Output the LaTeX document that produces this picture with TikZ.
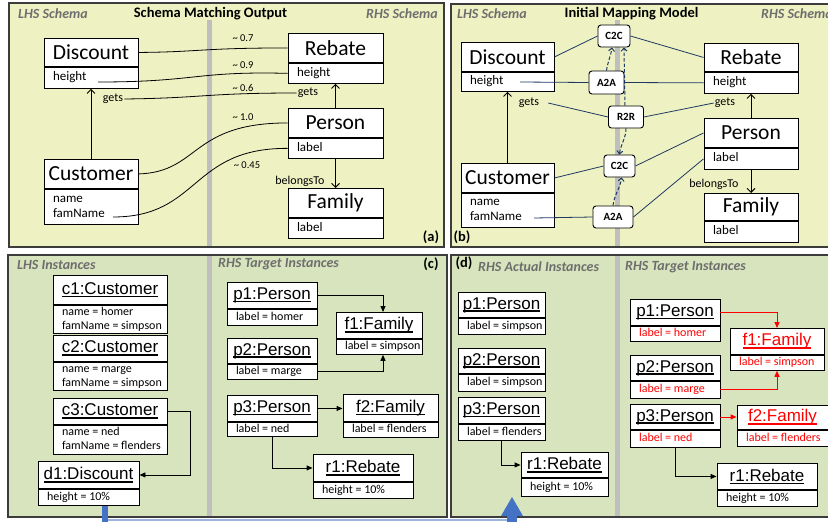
\documentclass[tikz,border=0pt]{standalone}
\usepackage{fontspec}
\setmainfont{Carlito}
\newfontfamily\arialf{Liberation Sans}
\usetikzlibrary{arrows.meta,calc}

\definecolor{panelA}{RGB}{238,242,194}
\definecolor{panelC}{RGB}{216,228,189}
\definecolor{sepgray}{RGB}{191,191,191}
\definecolor{framec}{RGB}{60,60,60}
\definecolor{navy}{RGB}{31,56,100}
\definecolor{ttlgray}{RGB}{110,110,110}
\definecolor{bigblue}{RGB}{68,114,196}
\definecolor{lightblue}{RGB}{157,181,222}
\definecolor{myred}{RGB}{255,0,0}

\newcommand{\myul}[1]{\setbox0\hbox{#1}\leavevmode\rlap{\rule[-2.8pt]{\wd0}{1.5pt}}\box0}

\tikzset{
  shdr/.style={draw=black, fill=white, line width=0.9pt, inner sep=0pt, font=\fontsize{21.5}{24}\selectfont},
  sbody/.style={draw=black, fill=white, line width=0.9pt, inner sep=0pt, font=\fontsize{13}{15}\selectfont},
  ihdr/.style={draw=black, fill=white, line width=0.9pt, inner sep=0pt, font=\arialf\fontsize{17}{19}\selectfont},
  ibody/.style={draw=black, fill=white, line width=0.9pt, inner sep=0pt, font=\fontsize{12}{14}\selectfont},
  mapn/.style={draw=black, fill=white, rounded corners=3pt, line width=0.9pt, inner sep=0pt, font=\bfseries\fontsize{11}{13}\selectfont},
  ttl/.style={font=\bfseries\itshape\fontsize{14}{16}\selectfont, text=ttlgray, inner sep=1pt},
  ttlb/.style={font=\bfseries\fontsize{14.5}{16}\selectfont, inner sep=1pt},
  rel/.style={font=\fontsize{12}{14}\selectfont, inner sep=1pt},
  wlab/.style={font=\fontsize{10.5}{12}\selectfont, inner sep=1pt},
  panelframe/.style={draw=framec, line width=1.2pt},
  mline/.style={black, line width=0.8pt},
  nline/.style={navy, line width=0.8pt},
  openarr/.style={line width=0.9pt, -{Straight Barb[length=4pt,width=8pt]}},
  farr/.style={line width=0.9pt, -{Triangle[length=6pt,width=5pt]}},
  dasharr/.style={navy, line width=1pt, dash pattern=on 3.5pt off 2pt, -{Straight Barb[length=3pt,width=6pt]}},
}

% #1 name, #2 cx, #3 ytop, #4 width, #5 header h, #6 body h, #7 header, #8 body
\newcommand{\schemabox}[8]{%
  \node[shdr, minimum width=#4, minimum height=#5, anchor=north] (#1) at (#2,#3) {#7};
  \node[sbody, minimum width=#4, minimum height=#6, anchor=north] (#1b) at (#1.south) {\makebox[\dimexpr #4pt-18pt\relax][l]{\begin{tabular}{@{}l@{}}#8\end{tabular}}};
}
\newcommand{\instbox}[8]{%
  \node[ihdr, minimum width=#4, minimum height=#5, anchor=north] (#1) at (#2,#3) {#7};
  \node[ibody, minimum width=#4, minimum height=#6, anchor=north] (#1b) at (#1.south) {\makebox[\dimexpr #4pt-18pt\relax][l]{\begin{tabular}{@{}l@{}}#8\end{tabular}}};
}

\begin{document}
\begin{tikzpicture}[x=1pt,y=-1pt]
\useasboundingbox (0,0) rectangle (828,522);
\clip (0,0) rectangle (828,522);
\fill[white] (0,0) rectangle (828,522);

% ---------- panels ----------
\draw[panelframe, fill=panelA] (9,3) rectangle (444,247);
\draw[panelframe, fill=panelA] (451,4) rectangle (840,247);
\draw[panelframe, fill=panelC] (8,255) rectangle (447,517);
\draw[panelframe, fill=panelC] (451,255) rectangle (840,517);

\fill[sepgray] (207,20) rectangle (212,246);
\fill[sepgray] (615,20) rectangle (620,246);
\fill[sepgray] (207,256) rectangle (212,516);
\fill[sepgray] (615,256) rectangle (620,516);

% ---------- titles ----------
\node[ttl, anchor=west] (tA1) at (17,14) {LHS Schema};
\node[ttlb] (tA2) at (210.5,14) {Schema Matching Output};
\node[ttl, anchor=east] (tA3) at (439,14) {RHS Schema};
\node[ttlb] (labA) at (431,237) {(a)};

\node[ttl, anchor=west] (tB1) at (456,14) {LHS Schema};
\node[ttlb] (tB2) at (631.5,14) {Initial Mapping Model};
\node[ttl, anchor=west] (tB3) at (760,14) {RHS Schema};
\node[ttlb] (labB) at (462,237) {(b)};

\node[ttl, anchor=west] (tC1) at (16,265) {LHS Instances};
\node[ttl, anchor=west] (tC2) at (217,264) {RHS Target Instances};
\node[ttlb] (labC) at (431,264) {(c)};

\node[ttlb] (labD) at (464,263) {(d)};
\node[ttl, anchor=west] (tD1) at (477,267) {RHS Actual Instances};
\node[ttl, anchor=west] (tD2) at (624,267) {RHS Target Instances};

% ---------- panel (a) ----------
\schemabox{disc}{91}{38}{94}{28}{21}{Discount}{height}
\schemabox{cust}{91}{159}{94}{29}{35}{Customer}{name\\famName}
\schemabox{reb}{335.5}{33}{95}{29}{20}{Rebate}{height}
\schemabox{pers}{335.5}{108}{95}{29}{20}{Person}{label}
\schemabox{fam}{335.5}{188}{95}{29}{20}{Family}{label}

\node[rel] (getsA) at (113,99) {gets};
\node[rel] (getsA2) at (308,93) {gets};
\node[rel] (belA) at (300,181) {belongsTo};

\draw[openarr] (cust.north) -- (discb.south);
\draw[openarr] (pers.north) -- (rebb.south);
\draw[openarr] (persb.south) -- (fam.north);

\coordinate (hgtEndA) at (98,82);
\coordinate (famEndA) at (113,217);
\draw[mline] (disc.east) .. controls (200,52) and (200,48) .. (reb.west);
\draw[mline] (hgtEndA) .. controls (197,82) and (195,71) .. (rebb.west);
\draw[mline] (getsA.east) .. controls (205,98) and (205,93) .. (getsA2.west);
\draw[mline] (cust.east) .. controls (200,172) and (190,123) .. (pers.west);
\draw[mline] (famEndA) .. controls (200,217) and (190,148) .. (persb.west);

\node[wlab] (w1) at (243,38) {\textasciitilde\ 0.7};
\node[wlab] (w2) at (243,65) {\textasciitilde\ 0.9};
\node[wlab] (w3) at (243,88) {\textasciitilde\ 0.6};
\node[wlab] (w4) at (243,117) {\textasciitilde\ 1.0};
\node[wlab] (w5) at (247,165) {\textasciitilde\ 0.45};

% ---------- panel (b) ----------
\schemabox{discB}{507.5}{42}{93}{29}{19}{Discount}{height}
\schemabox{custB}{507.5}{163}{93}{29}{34}{Customer}{name\\famName}
\schemabox{rebB}{751}{43}{94}{28}{21}{Rebate}{height}
\schemabox{persB}{751}{118}{94}{29}{21}{Person}{label}
\schemabox{famB}{751}{193}{94}{27}{21}{Family}{label}

\node[rel] (getsB) at (529,103) {gets};
\node[rel] (getsB2) at (725,103) {gets};
\node[rel] (belB) at (714,184) {belongsTo};

\draw[openarr] (custB.north) -- (discBb.south);
\draw[openarr] (persB.north) -- (rebBb.south);
\draw[openarr] (persBb.south) -- (famB.north);

\node[mapn, minimum width=32, minimum height=22] (c2c1) at (614,36) {C2C};
\node[mapn, minimum width=35, minimum height=23] (a2a1) at (606.5,82.5) {A2A};
\node[mapn, minimum width=35, minimum height=22] (r2r) at (626,117) {R2R};
\node[mapn, minimum width=31, minimum height=22] (c2c2) at (619.5,166) {C2C};
\node[mapn, minimum width=40, minimum height=22] (a2a2) at (613,217) {A2A};

\coordinate (hgtEndB) at (520,82);
\coordinate (famEndB) at (534,218);
\draw[nline] (discB.east) -- (c2c1.west);
\draw[nline] (c2c1.east) -- (rebB.west);
\draw[nline] (hgtEndB) -- (a2a1.west);
\draw[nline] (a2a1.east) -- (rebBb.west);
\draw[nline] ([xshift=8pt]getsB.east) -- (r2r.west);
\draw[nline] (r2r.east) -- (getsB2.west);
\draw[nline] (custB.east) -- (c2c2.west);
\draw[nline] (c2c2.east) -- (persB.west);
\draw[nline] (famEndB) -- (a2a2.west);
\draw[nline] (a2a2.east) -- (persBb.west);

\draw[dasharr] (a2a1.north) .. controls +(1,-8) and +(-1,8) .. ([xshift=-2pt]c2c1.south);
\draw[dasharr] ([xshift=-1pt]r2r.north) -- ([xshift=10pt]c2c1.south);
\draw[dasharr] (r2r.south) .. controls +(0,10) and +(1,-10) .. (c2c2.north);
\draw[dasharr] (a2a2.north) .. controls +(1,-10) and +(-1,10) .. ([xshift=2pt]c2c2.south);

% ---------- panel (c) ----------
\instbox{c1}{110}{275}{114}{29}{27}{\myul{c1:Customer}}{name = homer\\famName = simpson}
\instbox{c2}{110}{335}{114}{26}{28}{\myul{c2:Customer}}{name = marge\\famName = simpson}
\instbox{c3}{110}{398}{114}{26}{29}{\myul{c3:Customer}}{name = ned\\famName = flenders}
\instbox{d1}{88.5}{461}{101}{27}{16}{\myul{d1:Discount}}{height = 10\%}

\instbox{p1}{272}{282}{90}{26}{16}{\myul{p1:Person}}{label = homer}
\instbox{f1}{379}{312}{86}{26}{15}{\myul{f1:Family}}{label = simpson}
\instbox{p2}{272}{338}{90}{25}{15}{\myul{p2:Person}}{label = marge}
\instbox{p3}{272}{395}{90}{26}{13}{\myul{p3:Person}}{label = ned}
\instbox{f2}{390.5}{394}{95}{27}{15}{\myul{f2:Family}}{label = flenders}
\instbox{r1}{363}{454}{100}{27}{16}{\myul{r1:Rebate}}{height = 10\%}

\draw[farr] (c3.east) -- ++(23,0) |- (d1.east);
\draw[farr] (p1.east) -| ([xshift=4pt]f1.north);
\draw[farr] (p2b.east) -| ([xshift=4pt]f1b.south);
\draw[farr] (p3.east) -- (p3.east -| f2.west);
\draw[farr] (p3b.south) |- (r1.west);

% ---------- panel (d) ----------
\instbox{ap1}{501.5}{292}{87}{25}{16}{\myul{p1:Person}}{label = simpson}
\instbox{ap2}{501.5}{348}{87}{25}{17}{\myul{p2:Person}}{label = simpson}
\instbox{ap3}{501.5}{397}{87}{26}{16}{\myul{p3:Person}}{label = flenders}
\instbox{ar1}{564.5}{452}{87}{25}{18}{\myul{r1:Rebate}}{height = 10\%}
\draw[farr] (ap3b.south) |- (ar1.west);

\instbox{tp1}{675}{299}{90}{26}{15}{\myul{p1:Person}}{\textcolor{myred}{label = homer}}
\instbox{tf1}{777}{328}{94}{26}{15}{\textcolor{myred}{\myul{f1:Family}}}{\textcolor{myred}{label = simpson}}
\instbox{tp2}{675}{355}{90}{25}{17}{\myul{p2:Person}}{\textcolor{myred}{label = marge}}
\instbox{tp3}{675}{404}{90}{25}{17}{\myul{p3:Person}}{\textcolor{myred}{label = ned}}
\instbox{tf2}{782.5}{405}{91}{24}{16}{\textcolor{myred}{\myul{f2:Family}}}{\textcolor{myred}{label = flenders}}
\instbox{tr1}{767}{463}{100}{26}{16}{\myul{r1:Rebate}}{height = 10\%}

\draw[farr, myred] (tp1.east) -| (tf1.north);
\draw[farr, myred] (tp2b.east) -| (tf1b.south);
\draw[farr, myred] (tp3.east) -- (tp3.east -| tf2.west);
\draw[farr] (tp3b.south) |- (tr1.west);

% ---------- big blue arrow ----------
\coordinate (bbStart) at (105,506);
\coordinate (bbTip) at (512,497);
\draw[lightblue, line width=2pt] (105,520) -- (512,520);
\fill[bigblue] ($(bbStart)+(-3,0)$) rectangle (108,523);
\fill[bigblue] (507,515) rectangle (517,523);
\fill[bigblue] (501,516) -- (bbTip) -- (523,516) -- cycle;
\end{tikzpicture}
\end{document}
